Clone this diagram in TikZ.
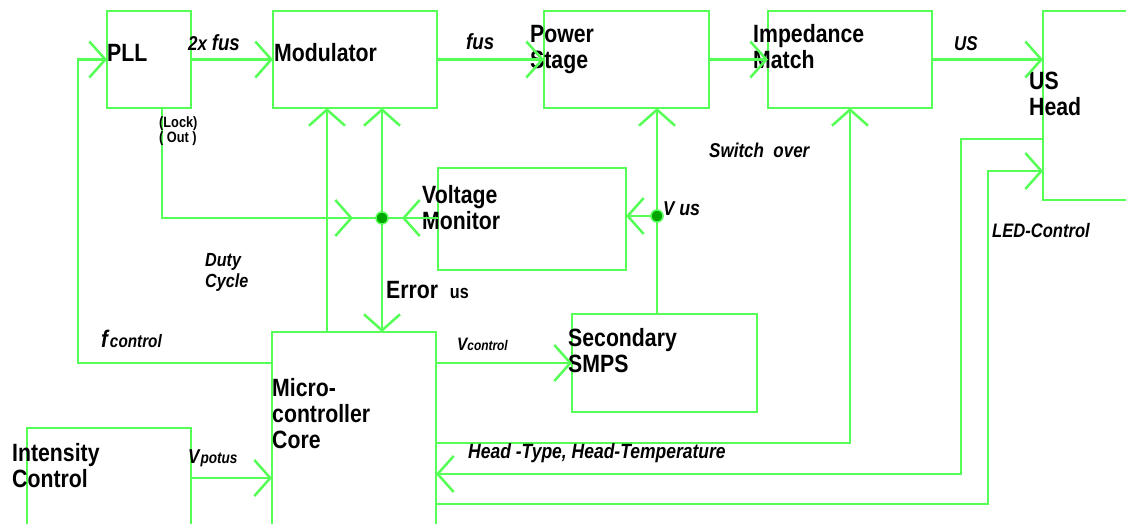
\documentclass[tikz,border=0pt]{standalone}
\usepackage{fontspec}
\setmainfont{Liberation Sans}[FakeStretch=0.85]
\usetikzlibrary{arrows.meta,decorations.markings}
\definecolor{lg}{RGB}{85,255,85}
\definecolor{dg}{RGB}{0,165,0}
\begin{document}
\begin{tikzpicture}[x=1pt,y=-1pt,
  box/.style={draw=lg,line width=2.5pt,inner sep=0pt,outer sep=0pt},
  conn/.style={draw=lg,line width=2.5pt},
  tipc/.tip={Straight Barb[length=16pt,width=36pt,line width=2.5pt]},
  arr/.style={conn,-tipc},
  midarr/.style={conn,postaction={decorate},decoration={markings,mark=at position #1 with {\arrow[lg]{tipc}}}},
  dot/.style={circle,fill=dg,draw=lg,line width=1.5pt,minimum size=12pt,inner sep=0pt},
  big/.style={inner sep=0pt,anchor=base west,align=left,font=\fontsize{25}{26}\selectfont\bfseries},
  ital/.style={inner sep=0pt,anchor=base west,align=left,font=\fontsize{20}{21}\selectfont\bfseries\itshape}
]
\useasboundingbox (0,0) rectangle (1126,523);
% boxes
\node[box,minimum width=84pt,minimum height=97pt] (pll) at (149,59.5) {};
\node[box,minimum width=164pt,minimum height=97pt] (mod) at (355,59.5) {};
\node[box,minimum width=165pt,minimum height=97pt] (pow) at (626.5,59.5) {};
\node[box,minimum width=164pt,minimum height=97pt] (imp) at (850,59.5) {};
\node[box,minimum width=110pt,minimum height=189pt] (head) at (1098,105.5) {};
\node[box,minimum width=188pt,minimum height=102pt] (vm) at (532,219) {};
\node[box,minimum width=185pt,minimum height=98pt] (smps) at (664.5,363) {};
\node[box,minimum width=164pt,minimum height=220pt] (mcu) at (354,442) {};
\node[box,minimum width=164pt,minimum height=120pt] (ic) at (109,488) {};
% box texts (anchor = baseline of last line)
\node[big] (tpll) at (107,61) {PLL};
\node[big] (tmod) at (274,61) {Modulator};
\node[big] (tpow) at (530,68) {Power\\Stage};
\node[big] (timp) at (753,68) {Impedance\\Match};
\node[big] (thead) at (1029,115) {US\\Head};
\node[big] (tvm) at (422,229) {Voltage\\Monitor};
\node[big] (tsmps) at (568,372) {Secondary\\SMPS};
\node[big] (tmcu) at (272,448) {Micro-\\controller\\Core};
\node[big] (tic) at (12,487) {Intensity\\Control};
% coordinates
\coordinate (j1) at (382,218);
\coordinate (j2) at (657,216);
\coordinate (fc) at (78,363);
\coordinate (dc) at (327,0);
\coordinate (c12) at (961,474);
\coordinate (c13) at (988,504);
% connectors
\draw[arr] (pll.east) -- (mod.west);
\draw[arr] (mod.east) -- (pow.west);
\draw[arr] (pow.east) -- (imp.west);
\draw[arr] (imp.east) -- (head.west |- imp.east);
\draw[arr] (mcu.west |- fc) -- (fc) |- (pll.west);
\draw[midarr=-29pt] ([xshift=13pt]pll.south) |- (j1);
\draw[midarr=-20pt] (vm.west |- j1) -- (j1);
\draw[arr] (j1) -- (mod.south -| j1);
\draw[arr] (j1) -- (mcu.north -| j1);
\draw[arr] (mcu.north -| dc) -- (mod.south -| dc);
\draw[arr] (smps.north -| j2) -- (pow.south -| j2);
\draw[arr] (j2) -- (vm.east |- j2);
\draw[arr] (mcu.east |- smps.west) -- (smps.west);
\draw[arr] (mcu.east |- 0,443) -| (imp.south);
\draw[arr] (head.west |- 0,139) -| (c12) -- (mcu.east |- c12);
\draw[arr] (mcu.east |- c13) -- (c13) |- (head.west |- 0,171);
\draw[arr] (ic.east |- 0,478) -- (mcu.west |- 0,478);
\node[dot] (d1) at (j1) {};
\node[dot] (d2) at (j2) {};
% labels
\node[ital] (l1) at (188,50) {2x {\fontsize{22}{22}\selectfont fus}};
\node[ital,font=\fontsize{22}{22}\selectfont\bfseries\itshape] (l2) at (466,49) {fus};
\node[ital] (l3) at (954,50) {US};
\node[ital] (l4) at (709,157) {Switch\ \ over};
\node[ital,font=\fontsize{19.5}{21}\selectfont\bfseries\itshape] (l5) at (992,237) {LED-Control};
\node[ital,font=\fontsize{19}{21}\selectfont\bfseries\itshape] (l6) at (205,287) {Duty\\Cycle};
\node[ital,font=\fontsize{24}{24}\selectfont\bfseries\itshape] (l7) at (101,347) {f\kern2pt{\fontsize{18}{18}\selectfont control}};
\node[ital] (l8) at (188,463) {V\kern1pt{\fontsize{16}{16}\selectfont potus}};
\node[ital,font=\fontsize{18}{18}\selectfont\bfseries\itshape] (l9) at (457,350) {V{\fontsize{14}{14}\selectfont control}};
\node[ital] (l10) at (663,215) {V {\fontsize{21}{21}\selectfont us}};
\node[ital,font=\fontsize{20.6}{21}\selectfont\bfseries\itshape] (l11) at (468,458) {Head -Type,\ Head-Temperature};
\node[big] (l12) at (386,298) {Error\ \ {\fontsize{19}{19}\selectfont us}};
\node[inner sep=0pt,anchor=base west,align=left,font=\fontsize{15}{15}\selectfont\bfseries] (l13) at (159,142) {(Lock)\\( Out )};
\end{tikzpicture}
\end{document}
